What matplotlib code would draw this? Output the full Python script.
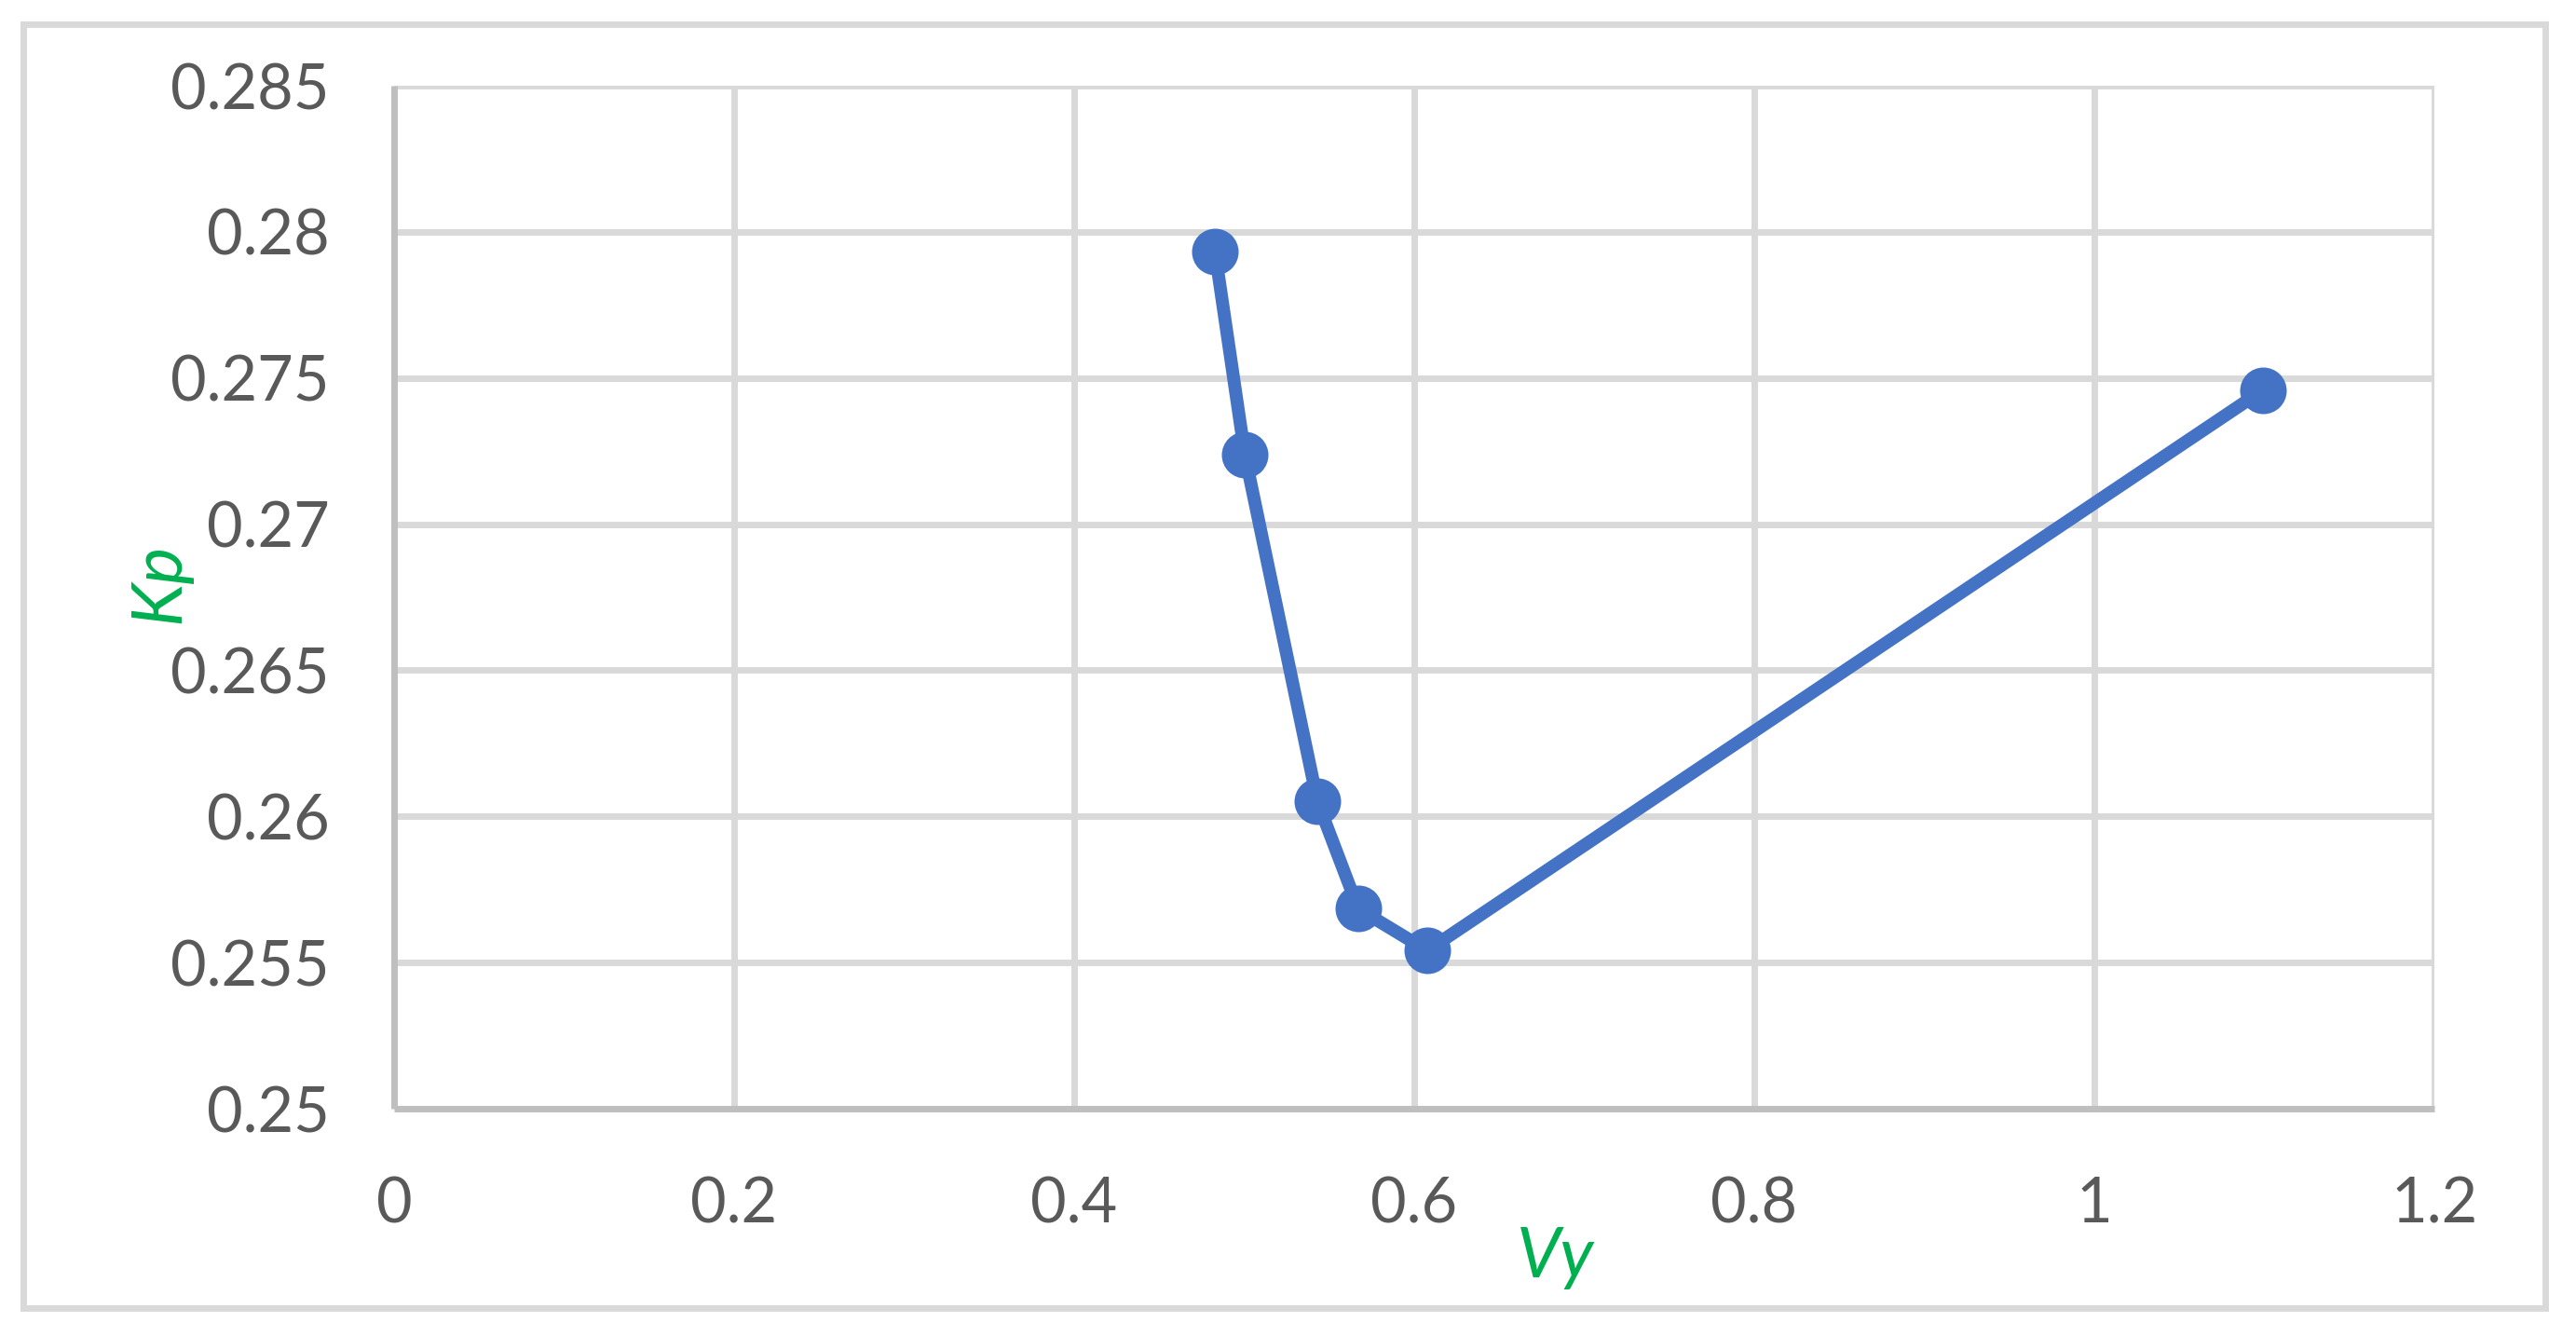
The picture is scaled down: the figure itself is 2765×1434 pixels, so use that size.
import matplotlib.pyplot as plt
from matplotlib.patches import Rectangle

# Kp vs Vy
vy = [0.4828, 0.5004, 0.5431, 0.5671, 0.6077, 1.0993]
kp = [0.27933, 0.27237, 0.26051, 0.25684, 0.25541, 0.27459]

xticks = [0, 0.2, 0.4, 0.6, 0.8, 1, 1.2]
xlabels = ["0", "0.2", "0.4", "0.6", "0.8", "1", "1.2"]
yticks = [0.25, 0.255, 0.26, 0.265, 0.27, 0.275, 0.28, 0.285]
ylabels = ["0.25", "0.255", "0.26", "0.265", "0.27", "0.275", "0.28", "0.285"]

plt.rcParams['font.family'] = ['Lato', 'DejaVu Sans']

W, H = 2765, 1434
fig = plt.figure(figsize=(W / 200, H / 200), dpi=200)
ax = fig.add_axes([423 / W, 1 - 1190 / H, 2190 / W, 1098 / H])

ax.plot(vy, kp, color="#4472C4", lw=5, marker="o", ms=17, zorder=3)

ax.set_xlim(0, 1.2)
ax.set_ylim(0.25, 0.285)
ax.set_xticks(xticks)
ax.set_xticklabels(xlabels)
ax.set_yticks(yticks)
ax.set_yticklabels(ylabels)
ax.tick_params(length=0, labelsize=24, labelcolor="#595959")
ax.tick_params(axis="y", pad=25)
ax.tick_params(axis="x", pad=26)

ax.grid(True, color="#D9D9D9", lw=2.5, zorder=0)
ax.set_axisbelow(True)
for s in ["top", "right"]:
    ax.spines[s].set_visible(False)
for s in ["left", "bottom"]:
    ax.spines[s].set_color("#BFBFBF")
    ax.spines[s].set_linewidth(2.5)
    ax.spines[s].set_capstyle("butt")

ax.set_xlabel("Vy", fontsize=27, color="#00B050", style="italic")
ax.set_ylabel("Kp", fontsize=27, color="#00B050", style="italic")
ax.xaxis.label.set_va("center")
ax.yaxis.label.set_va("center")
ax.xaxis.set_label_coords((1670 - 423) / 2190, (1190 - 1349) / 1098)
ax.yaxis.set_label_coords((171 - 423) / 2190, (1190 - 626) / 1098)

# outer frame
fig.patches.append(Rectangle((25 / W, 1 - 1404 / H), (2732 - 25) / W, (1404 - 26) / H,
                             transform=fig.transFigure, fill=False,
                             edgecolor="#D9D9D9", lw=2.5))

fig.savefig("out.png", dpi=200, facecolor="white")
